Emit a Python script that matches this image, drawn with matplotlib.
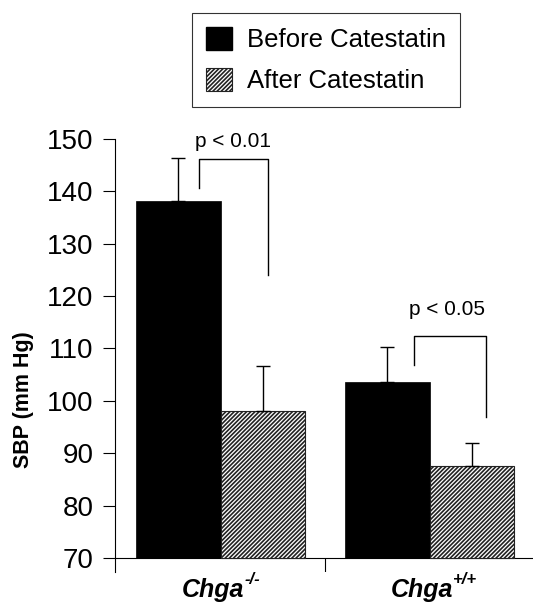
import matplotlib
matplotlib.use("Agg")
import matplotlib.pyplot as plt
from matplotlib.patches import Patch
import numpy as np

plt.rcParams["font.family"] = ["Liberation Sans", "DejaVu Sans"]
plt.rcParams["hatch.linewidth"] = 1.2

# datos
grupos = ["Chga", "Chga"]
superind = ["-/-", "+/+"]
antes = [138.1, 103.5]
antes_err = [8.3, 6.7]
despues = [98.1, 87.5]
despues_err = [8.6, 4.4]
series = ["Before Catestatin", "After Catestatin"]

# brackets de significancia: (x izq, x der, y arriba, y izq, y der, texto, x texto, y texto)
brackets = [
    (-0.103, 0.227, 146.2, 140.6, 124.0, "p < 0.01", 0.06, 148.5),
    (0.926, 1.27, 112.3, 106.9, 97.0, "p < 0.05", 1.084, 116.3),
]

ylo = 67.3
x = np.arange(len(grupos))
w = 0.405
off = 0.2025
rayado = "////////"

fig = plt.figure(figsize=(5.33, 6.03), dpi=100)
ax = fig.add_axes([0.2158, 0.0514, 0.7842, 0.718])

ax.bar(x - off, np.array(antes) - 70, w, bottom=70, color="black",
       edgecolor="black", linewidth=0.5, zorder=2)
ax.bar(x + off, np.array(despues) - 70, w, bottom=70, color="white",
       edgecolor="#222222", hatch=rayado, linewidth=0.8, zorder=2)
ax.errorbar(x - off, antes, yerr=[np.zeros(2), antes_err], fmt="none",
            ecolor="black", elinewidth=1.0, capsize=5, capthick=1.0, zorder=3)
ax.errorbar(x + off, despues, yerr=[np.zeros(2), despues_err], fmt="none",
            ecolor="black", elinewidth=1.0, capsize=5, capthick=1.0, zorder=3)

for xl, xr, yt, yl, yr, txt, xt, yt_txt in brackets:
    ax.plot([xl, xl, xr, xr], [yl, yt, yt, yr], color="black", lw=1.0,
            clip_on=False)
    ax.text(xt, yt_txt, txt, ha="center", va="baseline", fontsize=15,
            clip_on=False)

ax.set_xlim(-0.505, 1.495)
ax.set_ylim(ylo, 150)
ax.set_yticks(range(70, 151, 10))
ax.tick_params(axis="y", direction="out", length=8.6, width=0.8,
               labelsize=20, pad=7)
ax.set_xticks([])
for s in ["top", "right", "bottom"]:
    ax.spines[s].set_visible(False)
ax.spines["left"].set_linewidth(0.8)
ax.axhline(70, color="black", lw=0.8, zorder=1)
ax.vlines(0.5, ylo, 70, color="black", lw=0.8)

ax.set_ylabel("SBP (mm Hg)", fontsize=15.5, fontweight="bold")
ax.yaxis.set_label_coords(-0.195, 0.397)

for xi, g, s in zip(x, grupos, superind):
    t = ax.text(xi - 0.035, -0.058, g, transform=ax.get_xaxis_transform(),
                ha="center", va="baseline", fontsize=18, fontweight="bold",
                style="italic")
    ax.annotate(s, xy=(1.0, 0.62), xycoords=t, ha="left", va="bottom",
                fontsize=12, fontweight="bold", style="italic")

handles = [Patch(facecolor="black", edgecolor="black"),
           Patch(facecolor="white", edgecolor="#222222", hatch=rayado, lw=0.8)]
leg = fig.legend(handles, series, loc="upper left",
                 bbox_to_anchor=(192 / 533, 1 - 13 / 603), fontsize=18.5,
                 frameon=True, fancybox=False, edgecolor="black",
                 handlelength=1.0, handleheight=1.0, handletextpad=0.6,
                 labelspacing=0.6, borderpad=0.55, borderaxespad=0)
leg.get_frame().set_linewidth(0.8)

fig.savefig("out.png", dpi=100)
